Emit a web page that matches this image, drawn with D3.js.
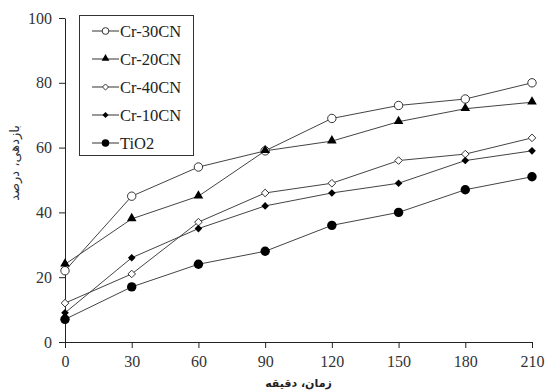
<!DOCTYPE html>
<html>
<head>
<meta charset="utf-8">
<script src="https://cdn.jsdelivr.net/npm/d3@7"></script>
<style>
  body { margin: 0; background: #fff; }
  svg { display: block; }
</style>
</head>
<body>
<div id="chart"></div>
<script>
var times = [0, 30, 60, 90, 120, 150, 180, 210];
var seriesNames = ["Cr-30CN", "Cr-20CN", "Cr-40CN", "Cr-10CN", "TiO2"];
var cr30 = [22, 45, 54, 59, 69, 73, 75, 80];
var cr20 = [24, 38, 45, 59, 62, 68, 72, 74];
var cr40 = [12, 21, 37, 46, 49, 56, 58, 63];
var cr10 = [9, 26, 35, 42, 46, 49, 56, 59];
var tio2 = [7, 17, 24, 28, 36, 40, 47, 51];
var yTicks = [0, 20, 40, 60, 80, 100];

var serif = "'Liberation Serif'";
var markers = ["openCircle", "triangle", "openDiamond", "diamond", "circle"];
var series = [cr30, cr20, cr40, cr10, tio2].map(function(v, i) {
  return { name: seriesNames[i], values: v, marker: markers[i] };
});

var width = 545, height = 392;
var margin = { left: 65, right: 13, top: 18, bottom: 50 };

var svg = d3.select("#chart").append("svg")
  .attr("width", width)
  .attr("height", height);

var x = d3.scaleLinear().domain([0, 210]).range([margin.left, width - margin.right]);
var y = d3.scaleLinear().domain([0, 100]).range([height - margin.bottom, margin.top]);

// axes
var xAxis = svg.append("g")
  .attr("transform", "translate(0," + y(0) + ")")
  .call(d3.axisBottom(x).tickValues(times).tickSize(6).tickSizeOuter(0).tickPadding(8));
var yAxis = svg.append("g")
  .attr("transform", "translate(" + x(0) + ",0)")
  .call(d3.axisLeft(y).tickValues(yTicks).tickSize(6).tickSizeOuter(0).tickPadding(7));

[xAxis, yAxis].forEach(function(g) {
  g.select(".domain").attr("stroke", "#222");
  g.selectAll(".tick line").attr("stroke", "#222");
  g.selectAll(".tick text")
    .style("font-family", serif)
    .style("font-size", "16px")
    .attr("fill", "#333");
});

// axis titles
svg.append("text")
  .attr("x", x(105))
  .attr("y", 387)
  .attr("text-anchor", "middle")
  .style("font-family", "'DejaVu Sans'")
  .style("font-weight", "bold")
  .style("font-size", "11px")
  .attr("fill", "#222")
  .text("زمان، دقیقه");

svg.append("text")
  .attr("transform", "translate(19," + 163 + ") rotate(-90)")
  .attr("text-anchor", "middle")
  .style("font-family", "'DejaVu Sans'")
  .style("font-size", "13px")
  .attr("fill", "#333")
  .text("بازدهی، درصد");

function drawMarker(g, type, cx, cy, scale) {
  scale = scale || 1;
  if (type == "openCircle") {
    g.append("circle").attr("cx", cx).attr("cy", cy).attr("r", 4.2 * scale)
      .attr("fill", "#fff").attr("stroke", "#333").attr("stroke-width", 1);
  } else if (type == "circle") {
    g.append("circle").attr("cx", cx).attr("cy", cy).attr("r", 4.7 * scale)
      .attr("fill", "#000");
  } else if (type == "triangle") {
    g.append("path")
      .attr("d", d3.symbol().type(d3.symbolTriangle).size(40 * scale * scale)())
      .attr("transform", "translate(" + cx + "," + (cy - 0.5) + ")")
      .attr("fill", "#000");
  } else if (type == "openDiamond") {
    var s = 3.8 * scale;
    g.append("path")
      .attr("d", "M0," + (-s) + "L" + s + ",0L0," + s + "L" + (-s) + ",0Z")
      .attr("transform", "translate(" + cx + "," + cy + ")")
      .attr("fill", "#fff").attr("stroke", "#333").attr("stroke-width", 1);
  } else if (type == "diamond") {
    var d = 3.8 * scale;
    g.append("path")
      .attr("d", "M0," + (-d) + "L" + d + ",0L0," + d + "L" + (-d) + ",0Z")
      .attr("transform", "translate(" + cx + "," + cy + ")")
      .attr("fill", "#000");
  }
}

var line = d3.line()
  .x(function(d, i) { return x(times[i]); })
  .y(function(d) { return y(d); });

series.forEach(function(s) {
  svg.append("path")
    .attr("d", line(s.values))
    .attr("fill", "none")
    .attr("stroke", "#444")
    .attr("stroke-width", 1);
});
series.forEach(function(s) {
  var g = svg.append("g");
  s.values.forEach(function(v, i) {
    drawMarker(g, s.marker, x(times[i]), y(v));
  });
});

// legend
var legend = svg.append("g");
legend.append("rect")
  .attr("x", 79.5).attr("y", 15.5)
  .attr("width", 114).attr("height", 140)
  .attr("fill", "#fff").attr("stroke", "#333").attr("stroke-width", 1);

series.forEach(function(s, i) {
  var ly = 31 + i * 28;
  legend.append("line")
    .attr("x1", 92).attr("x2", 119)
    .attr("y1", ly).attr("y2", ly)
    .attr("stroke", "#333").attr("stroke-width", 1);
  drawMarker(legend, s.marker, 105.5, ly, 0.8);
  legend.append("text")
    .attr("x", 120).attr("y", ly + 6)
    .style("font-family", serif)
    .style("font-size", "16.5px")
    .attr("fill", "#222")
    .text(s.name);
});
</script>
</body>
</html>
